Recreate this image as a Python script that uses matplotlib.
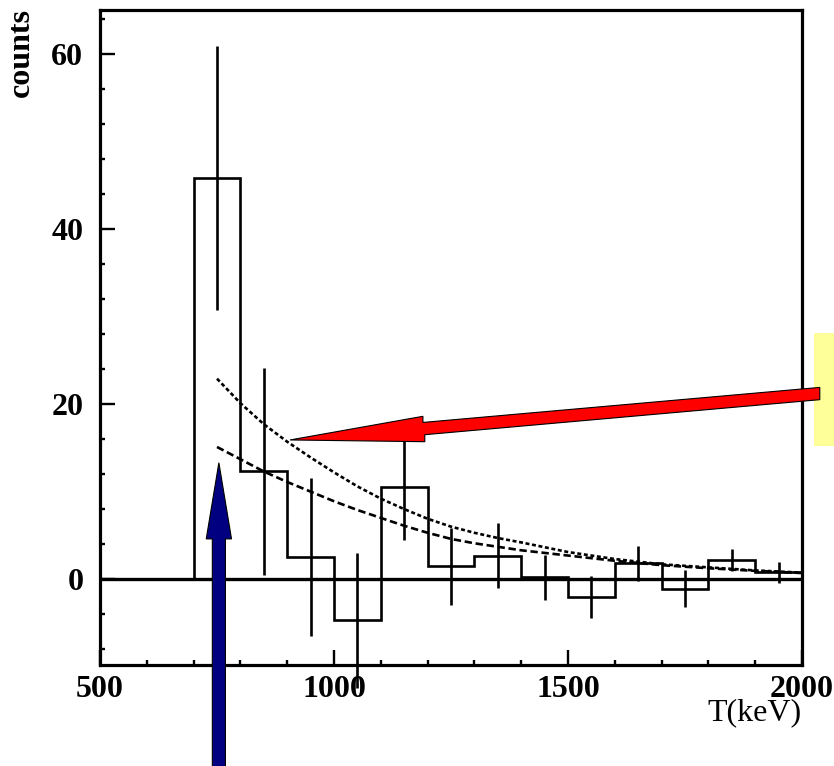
import matplotlib
matplotlib.use("Agg")
import matplotlib.pyplot as plt
from matplotlib.patches import Polygon, Rectangle
from matplotlib.ticker import MultipleLocator
import numpy as np

# histogram: bin edges (keV), contents and errors
bin_edges = [700, 800, 900, 1000, 1100, 1200, 1300, 1400, 1500, 1600, 1700, 1800, 1900, 2000]
counts = [45.8, 12.3, 2.5, -4.7, 10.5, 1.5, 2.7, 0.2, -2.0, 1.8, -1.1, 2.2, 0.8]
errors = [15.1, 11.8, 9.0, 7.7, 6.0, 4.4, 3.7, 2.6, 2.4, 2.0, 2.1, 1.3, 1.2]

# the two expected-spectrum curves
curve_T = [750, 800, 850, 900, 950, 1000, 1050, 1100, 1150, 1200, 1250, 1300, 1350,
           1400, 1500, 1600, 1700, 1800, 1900, 2000]
curve_upper = [22.9, 20.1, 17.7, 15.7, 13.9, 12.2, 10.6, 9.2, 8.0, 6.9, 6.0, 5.3, 4.7,
               4.2, 3.1, 2.3, 1.7, 1.35, 1.0, 0.75]
curve_lower = [15.1, 13.7, 12.3, 11.1, 10.0, 8.9, 7.9, 7.0, 6.1, 5.3, 4.6, 4.1, 3.7,
               3.3, 2.7, 2.1, 1.6, 1.25, 0.95, 0.7]

x_ticks = [500, 1000, 1500, 2000]
y_ticks = [0, 20, 40, 60]

# annotation arrows (data coords)
red_arrow = [(906, 15.9), (1194, 15.7), (1194, 16.5), (2038, 20.5),
             (2038, 21.9), (1190, 17.9), (1190, 18.6)]
blue_arrow = [(754, 13.3), (781, 4.6), (768, 4.6), (768, -30),
              (740, -30), (740, 4.6), (727, 4.6)]

serif = "Liberation Serif"
fig = plt.figure(figsize=(8.34, 7.66), dpi=100)
ax = fig.add_axes([100/834, 1 - 665/766, 702/834, 655/766])

edges = np.array(bin_edges)
centers = (edges[:-1] + edges[1:]) / 2
vals = np.array(counts)
errs = np.array(errors)

ax.axhline(0, color="black", lw=2.4, zorder=2)
ax.stairs(vals, edges, baseline=0, color="black", lw=1.9, zorder=3)
ax.vlines(centers, vals - errs, vals + errs, color="black", lw=1.9, zorder=3, clip_on=False)

ax.plot(curve_T, curve_upper, color="black", lw=1.9, linestyle=(0, (1.5, 1.0)), zorder=4)
ax.plot(curve_T, curve_lower, color="black", lw=1.9, linestyle=(0, (2.8, 1.4)), zorder=4)

ax.add_patch(Polygon(red_arrow, closed=True, facecolor="#ff0000", edgecolor="black",
                     lw=0.8, clip_on=False, zorder=6))
ax.add_patch(Polygon(blue_arrow, closed=True, facecolor="#000080", edgecolor="black",
                     lw=0.8, clip_on=False, zorder=6))

ax.set_xlim(500, 2000)
ax.set_ylim(-9.8, 65)
ax.set_xticks(x_ticks)
ax.set_yticks(y_ticks)
ax.xaxis.set_minor_locator(MultipleLocator(100))
ax.yaxis.set_minor_locator(MultipleLocator(4))
ax.tick_params(which="both", direction="in", top=False, right=False, width=1.7)
ax.tick_params(which="major", length=10.5)
ax.tick_params(which="minor", length=3.5)
ax.tick_params(axis="x", pad=7)
ax.tick_params(axis="y", pad=12)
for lab in ax.get_xticklabels() + ax.get_yticklabels():
    lab.set_fontfamily(serif)
    lab.set_fontweight("bold")
    lab.set_fontsize(23)
for sp in ax.spines.values():
    sp.set_linewidth(2.3)

fig.text(21/834, 1 - 8/766, "counts", rotation=90, ha="center", va="top",
         fontsize=23, fontweight="bold", family=serif)
fig.text(802/834, 1 - 698/766, "T(keV)", ha="right", va="top",
         fontsize=23, family=serif)

fig.add_artist(Rectangle((814/834, 1 - 446/766), 20/834, 113/766, transform=fig.transFigure,
                         facecolor="#ffff99", edgecolor="none", zorder=-1))

fig.savefig("out.png", dpi=100)
